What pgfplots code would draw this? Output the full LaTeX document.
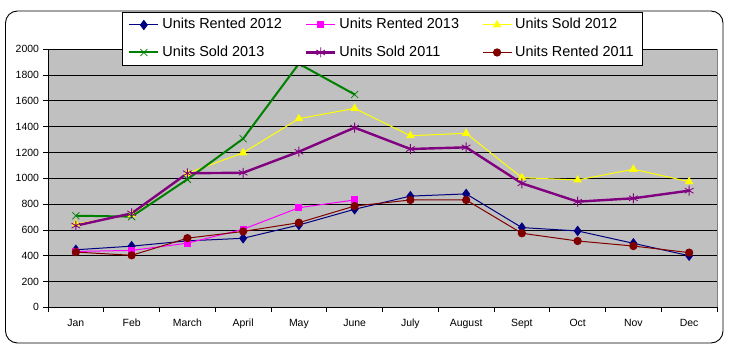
\documentclass[border=0pt]{standalone}
\usepackage{pgfplots}
\pgfplotsset{compat=1.18}
\usepackage{fontspec}
\setmainfont{Liberation Sans}
\definecolor{plotgray}{RGB}{192,192,192}
\definecolor{bordergray}{RGB}{128,128,128}
\definecolor{cnavy}{RGB}{0,0,128}
\definecolor{cpink}{RGB}{255,0,255}
\definecolor{cyellow}{RGB}{255,255,0}
\definecolor{cgreen}{RGB}{0,128,0}
\definecolor{cpurple}{RGB}{128,0,128}
\definecolor{cdred}{RGB}{128,0,0}
\begin{document}
\begin{tikzpicture}[x=1bp,y=1bp]
\path[use as bounding box] (0,0) rectangle (732,363);
\draw[black, line width=0.9bp, rounded corners=12bp] (5.5,20) rectangle (723,352);
\begin{axis}[
  at={(48bp,55.7bp)}, anchor=south west,
  scale only axis, width=669bp, height=258bp,
  xmin=0.5, xmax=12.5, ymin=0, ymax=2000,
  axis background/.style={fill=plotgray, draw=bordergray},
  axis lines*=left,
  axis line style={-, black, line width=0.8bp},
  xtick={0.5,1.5,...,12.5},
  xticklabels={Jan,Feb,March,April,May,June,July,August,Sept,Oct,Nov,Dec},
  x tick label as interval=true,
  ytick={0,200,...,2000},
  ymajorgrids=true,
  grid style={black, line width=0.8bp},
  tick align=outside,
  major tick length=4.5bp,
  tick style={black, line width=0.8bp},
  /pgf/number format/1000 sep={},
  /pgf/number format/assume math mode=true,
  tick label style={font=\fontsize{10.5}{12}\selectfont},
  xticklabel style={yshift=-4bp},
  yticklabel style={xshift=-1bp},
  legend columns=3,
  legend style={at={(0.5,1.041)}, anchor=center, draw=black, line width=0.8bp, fill=white,
    font=\fontsize{14.5}{17}\selectfont, cells={anchor=west},
    nodes={inner xsep=3bp, inner ysep=2bp, text height=10.5bp, text depth=3bp},
    inner xsep=6bp, inner ysep=4bp, row sep=10bp,
    /tikz/every even column/.append style={column sep=20bp}},
  legend image code/.code={\draw[mark repeat=2,mark phase=2] plot coordinates {(0bp,0bp) (14.5bp,0bp) (29bp,0bp)};},
]
\addplot[cnavy, line width=1bp, mark=diamond*, mark size=4.5bp, mark options={fill=cnavy, draw=cnavy, solid}]
  coordinates {(1,446) (2,474) (3,515) (4,535) (5,638) (6,760) (7,862) (8,879) (9,618) (10,592) (11,496) (12,400)};
\addlegendentry{Units Rented 2012}
\addplot[cpink, line width=1bp, mark=square*, mark size=3bp, mark options={fill=cpink, draw=cpink, solid}]
  coordinates {(1,433) (2,441) (3,497) (4,605) (5,772) (6,832)};
\addlegendentry{Units Rented 2013}
\addplot[cyellow, line width=1bp, mark=triangle*, mark size=4bp, mark options={fill=cyellow, draw=cyellow, solid}]
  coordinates {(1,646) (2,718) (3,1039) (4,1198) (5,1462) (6,1542) (7,1330) (8,1349) (9,1005) (10,987) (11,1070) (12,974)};
\addlegendentry{Units Sold 2012}
\addplot[cgreen, line width=2bp, mark=x, mark size=5bp, mark options={line width=0.8bp, solid}]
  coordinates {(1,710) (2,703) (3,992) (4,1307) (5,1888) (6,1650)};
\addlegendentry{Units Sold 2013}
\addplot[cpurple, line width=2.4bp, mark=asterisk, mark size=5bp, mark options={line width=0.8bp, solid}]
  coordinates {(1,633) (2,728) (3,1039) (4,1043) (5,1206) (6,1393) (7,1227) (8,1240) (9,961) (10,819) (11,845) (12,904)};
\addlegendentry{Units Sold 2011}
\addplot[cdred, line width=1bp, mark=*, mark size=3.6bp, mark options={fill=cdred, draw=cdred, solid}]
  coordinates {(1,428) (2,403) (3,536) (4,588) (5,656) (6,785) (7,832) (8,832) (9,574) (10,514) (11,475) (12,424)};
\addlegendentry{Units Rented 2011}
\end{axis}
\end{tikzpicture}
\end{document}
